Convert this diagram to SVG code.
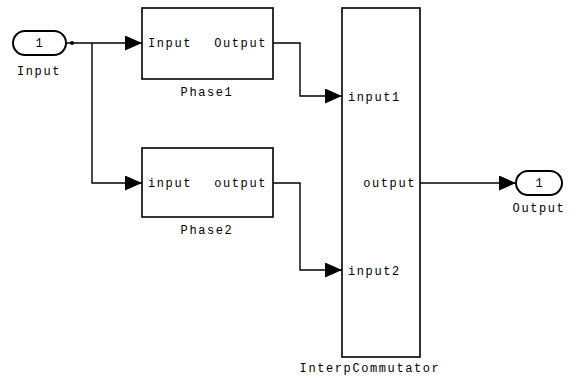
<svg xmlns="http://www.w3.org/2000/svg" width="570" height="376" viewBox="0 0 570 376">
<defs>
<style>
.blk{fill:#fff;stroke:#000;stroke-width:1.6}
.port{fill:#fff;stroke:#000;stroke-width:2}
.wire{fill:none;stroke:#000;stroke-width:1.4}
text{font-family:"Liberation Mono","DejaVu Sans Mono",monospace;font-size:12px;letter-spacing:1.6px;fill:#000}
.mid{text-anchor:middle}
.end{text-anchor:end}
</style>
<marker id="arr" viewBox="0 0 17 15" refX="17" refY="7.5" markerWidth="17" markerHeight="15" markerUnits="userSpaceOnUse" orient="auto">
<path d="M0,0 L17,7.5 L0,15 Z" fill="#000"/>
</marker>
</defs>
<g id="connectors">
<path class="wire" d="M66,43 H142" marker-end="url(#arr)"/>
<circle cx="72" cy="43" r="2" fill="#000"/>
<path class="wire" d="M92,43 V183 H142" marker-end="url(#arr)"/>
<path class="wire" d="M273,43 H300 V96 H342" marker-end="url(#arr)"/>
<path class="wire" d="M273,183 H300 V270 H342" marker-end="url(#arr)"/>
<path class="wire" d="M420,183 H516" marker-end="url(#arr)"/>
</g>
<g id="Input">
<rect class="port" x="13" y="31" width="53" height="24" rx="12"/>
<text class="mid" x="40" y="47">1</text>
<text class="mid" x="39" y="75">Input</text>
</g>
<g id="Phase1">
<rect class="blk" x="142" y="8" width="131" height="71"/>
<text x="148" y="47">Input</text>
<text class="end" x="267" y="47">Output</text>
<text class="mid" x="207" y="96">Phase1</text>
</g>
<g id="Phase2">
<rect class="blk" x="142" y="148" width="131" height="69"/>
<text x="148" y="187">input</text>
<text class="end" x="267" y="187">output</text>
<text class="mid" x="207" y="234">Phase2</text>
</g>
<g id="InterpCommutator">
<rect class="blk" x="342" y="8" width="78" height="349"/>
<text x="348" y="101">input1</text>
<text x="348" y="275">input2</text>
<text class="end" x="416" y="187">output</text>
<text class="mid" x="370" y="372">InterpCommutator</text>
</g>
<g id="Output">
<rect class="port" x="516" y="171" width="46" height="24" rx="12"/>
<text class="mid" x="540" y="187">1</text>
<text class="mid" x="539" y="212">Output</text>
</g>
</svg>
